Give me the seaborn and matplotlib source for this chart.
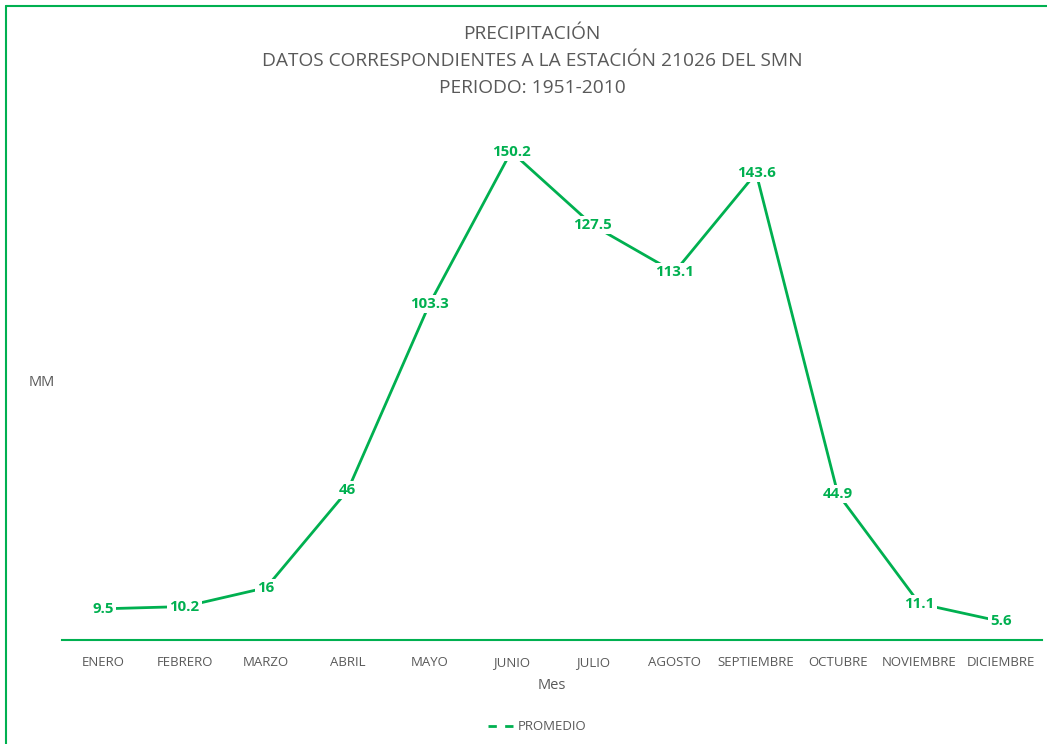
import pandas as pd
import matplotlib.pyplot as plt
import seaborn as sns
from matplotlib.lines import Line2D

meses = ['ENERO', 'FEBRERO', 'MARZO', 'ABRIL', 'MAYO', 'JUNIO', 'JULIO',
         'AGOSTO', 'SEPTIEMBRE', 'OCTUBRE', 'NOVIEMBRE', 'DICIEMBRE']
promedio = [9.5, 10.2, 16, 46, 103.3, 150.2, 127.5, 113.1, 143.6, 44.9, 11.1, 5.6]
etiquetas = ['9.5', '10.2', '16', '46', '103.3', '150.2', '127.5', '113.1', '143.6', '44.9', '11.1', '5.6']

verde = '#00B050'
gris = '#595959'

df = pd.DataFrame({'Mes': meses, 'MM': promedio, 'pos': range(len(meses))})

sns.set_style('white')
plt.rcParams['font.family'] = ['Open Sans', 'DejaVu Sans']

fig = plt.figure(figsize=(10.47, 7.44), dpi=100)
ax = fig.add_axes([0.0592, 0.1402, 0.9360, 0.6989])

sns.lineplot(data=df, x='pos', y='MM', color=verde, linewidth=2, ax=ax)

for i, (v, t) in enumerate(zip(promedio, etiquetas)):
    ax.text(i, v, t, ha='center', va='center', color=verde, fontsize=10.8,
            fontweight='bold', bbox=dict(facecolor='white', edgecolor='none', pad=1.5))

ax.set_xlim(-0.5, len(meses) - 0.5)
ax.set_ylim(0, 160)
ax.set_xticks(range(len(meses)))
ax.set_xticklabels(meses, color=gris, fontsize=9.5)
ax.set_yticks([])
ax.tick_params(axis='x', length=0, pad=12)
for s in ['top', 'right', 'left']:
    ax.spines[s].set_visible(False)
ax.spines['bottom'].set_color(verde)
ax.spines['bottom'].set_linewidth(1.5)

ax.set_xlabel('Mes', color=gris, fontsize=10.5, labelpad=6)
ax.set_ylabel('')
fig.text(0.040, 0.486, 'MM', color=gris, fontsize=10.5, ha='center', va='center')

fig.text(0.508, 0.954, 'PRECIPITACIÓN', color=gris, fontsize=13.8, ha='center', va='center')
fig.text(0.508, 0.918, 'DATOS CORRESPONDIENTES A LA ESTACIÓN 21026 DEL SMN', color=gris,
         fontsize=13.8, ha='center', va='center')
fig.text(0.508, 0.882, 'PERIODO: 1951-2010', color=gris, fontsize=13.8, ha='center', va='center')

handle = Line2D([], [], color=verde, linewidth=2, linestyle=(0, (3, 3)))
fig.legend([handle], ['PROMEDIO'], loc='center', bbox_to_anchor=(0.513, 0.023), frameon=False,
           fontsize=9.5, labelcolor=gris, handlelength=2.2, handletextpad=0.1)

# marco del grafico (solo arriba e izquierda visibles)
fig.add_artist(Line2D([0.0062, 0.0062], [0, 0.9913], color=verde, linewidth=1.5, transform=fig.transFigure))
fig.add_artist(Line2D([0.0062, 1], [0.9913, 0.9913], color=verde, linewidth=1.5, transform=fig.transFigure))

fig.savefig('out.png', dpi=100)
